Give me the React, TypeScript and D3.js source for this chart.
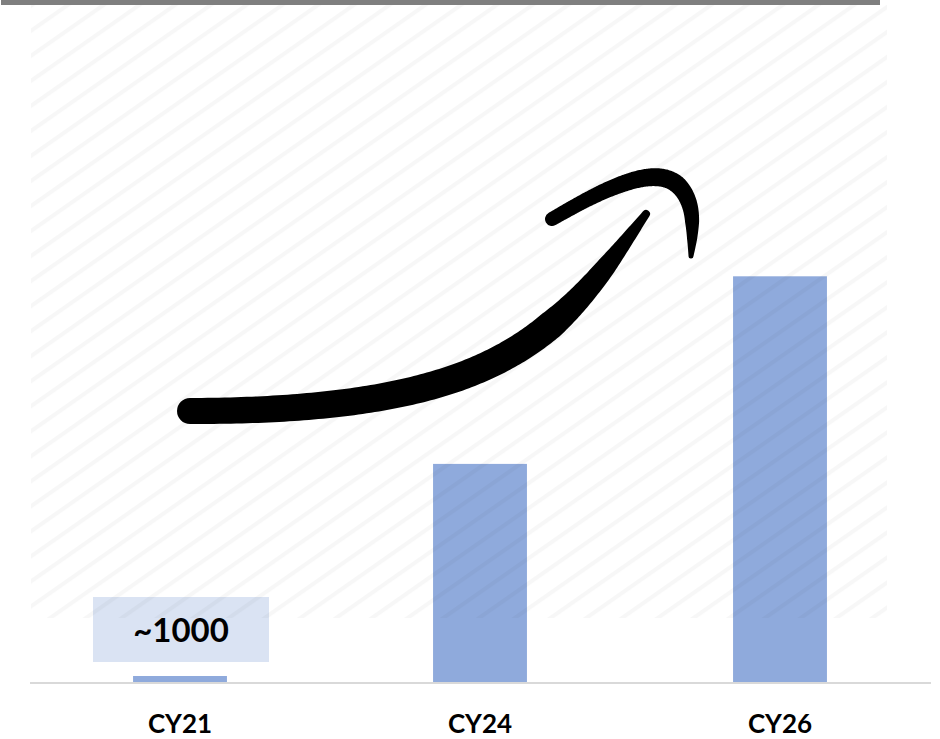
import React from "react";
import * as d3 from "d3";

// ---- data ----
const categories = ["CY21", "CY24", "CY26"];
const values = [1000, 31300, 58100];
const calloutText = "~1000";

// ---- growth swoosh (annotation geometry) ----
// body: cubic Bézier control points + width profile along its length
const swooshBody: [number, number][] = [[190, 411], [511, 411], [559, 330], [646, 214]];
const swooshBodyStops = [0, 0.5, 0.72, 0.87, 1];
const swooshBodyWidths = [26, 28, 28.5, 20, 8];

// head: smooth curve through these points + width profile
const swooshHead: [number, number][] = [
  [552, 219], [590, 198], [625, 183], [655, 177], [677, 184],
  [689, 203], [692, 222], [692, 240], [691, 256],
];
const swooshHeadStops = [0, 0.2, 0.53, 0.64, 0.75, 0.84, 0.92, 1];
const swooshHeadWidths = [14, 15, 18, 18, 16, 14, 10, 5];

const W = 940;
const H = 739;

function sampleBezier(p: [number, number][], n = 160): [number, number][] {
  const out: [number, number][] = [];
  for (let k = 0; k <= n; k++) {
    const t = k / n, u = 1 - t;
    const a = u * u * u, b = 3 * u * u * t, c = 3 * u * t * t, d = t * t * t;
    out.push([
      a * p[0][0] + b * p[1][0] + c * p[2][0] + d * p[3][0],
      a * p[0][1] + b * p[1][1] + c * p[2][1] + d * p[3][1],
    ]);
  }
  return out;
}

// Uniform cubic B-spline whose control points are nudged so the curve
// passes close to the given points.
function sampleSpline(points: [number, number][], perSeg = 30): [number, number][] {
  const n = points.length;
  const ctrl: [number, number][] = points.map((p, i) => {
    if (i === 0 || i === n - 1) return p;
    const a = points[i - 1], b = points[i + 1];
    return [
      p[0] - (a[0] - 2 * p[0] + b[0]) / 6,
      p[1] - (a[1] - 2 * p[1] + b[1]) / 6,
    ];
  });
  const pts = [ctrl[0], ctrl[0], ...ctrl, ctrl[n - 1], ctrl[n - 1]];
  const out: [number, number][] = [];
  for (let i = 0; i < pts.length - 3; i++) {
    const p0 = pts[i], p1 = pts[i + 1], p2 = pts[i + 2], p3 = pts[i + 3];
    for (let k = 0; k < perSeg; k++) {
      const t = k / perSeg, t2 = t * t, t3 = t2 * t;
      const b0 = (1 - t) ** 3 / 6;
      const b1 = (3 * t3 - 6 * t2 + 4) / 6;
      const b2 = (-3 * t3 + 3 * t2 + 3 * t + 1) / 6;
      const b3 = t3 / 6;
      out.push([
        b0 * p0[0] + b1 * p1[0] + b2 * p2[0] + b3 * p3[0],
        b0 * p0[1] + b1 * p1[1] + b2 * p2[1] + b3 * p3[1],
      ]);
    }
  }
  out.push(ctrl[n - 1]);
  return out;
}

// Closed outline of a variable-width stroke with round caps
function taperedPath(c: [number, number][], stops: number[], widths: number[]): string {
  const widthAt = d3.scaleLinear().domain(stops).range(widths).clamp(true);
  const cum = [0];
  for (let i = 1; i < c.length; i++) {
    cum.push(cum[i - 1] + Math.hypot(c[i][0] - c[i - 1][0], c[i][1] - c[i - 1][1]));
  }
  const total = cum[cum.length - 1];
  const left: [number, number][] = [];
  const right: [number, number][] = [];
  const halves: number[] = [];
  for (let i = 0; i < c.length; i++) {
    let a = c[Math.max(0, i - 1)], b = c[Math.min(c.length - 1, i + 1)];
    if (Math.hypot(b[0] - a[0], b[1] - a[1]) < 1e-6) {
      a = c[Math.max(0, i - 2)];
      b = c[Math.min(c.length - 1, i + 2)];
    }
    const tx = b[0] - a[0], ty = b[1] - a[1];
    const len = Math.hypot(tx, ty) || 1;
    const nx = -ty / len, ny = tx / len;
    const h = widthAt(cum[i] / total) / 2;
    halves.push(h);
    left.push([c[i][0] + nx * h, c[i][1] + ny * h]);
    right.push([c[i][0] - nx * h, c[i][1] - ny * h]);
  }
  const hs = halves[0], he = halves[halves.length - 1];
  let d = `M${left[0][0]},${left[0][1]}`;
  for (let i = 1; i < left.length; i++) d += `L${left[i][0]},${left[i][1]}`;
  const re = right[right.length - 1];
  d += `A${he},${he} 0 0 0 ${re[0]},${re[1]}`;
  for (let i = right.length - 2; i >= 0; i--) d += `L${right[i][0]},${right[i][1]}`;
  d += `A${hs},${hs} 0 0 0 ${left[0][0]},${left[0][1]}Z`;
  return d;
}

export default function App() {
  const x = d3.scalePoint<string>().domain(categories).range([30, 930]).padding(0.5);
  const y = d3.scaleLinear().domain([0, 80000]).range([683, 123]);
  const barW = x.step() * 0.313;

  const boxW = 176;
  const boxH = 65;
  const boxCx = (x("CY21") as number) + 1;
  const boxBottom = y(values[0]) - 14;
  const boxTop = boxBottom - boxH;

  const bodyPath = taperedPath(sampleBezier(swooshBody), swooshBodyStops, swooshBodyWidths);
  const headPath = taperedPath(sampleSpline(swooshHead), swooshHeadStops, swooshHeadWidths);

  return (
    <svg
      width={W}
      height={H}
      viewBox={`0 0 ${W} ${H}`}
      style={{ position: "absolute", left: 0, top: 0, background: "#ffffff" }}
      fontFamily="Lato, 'Open Sans', sans-serif"
    >
      <defs>
        <pattern
          id="hatch"
          width={20.5}
          height={20.5}
          patternUnits="userSpaceOnUse"
          patternTransform="rotate(-35)"
        >
          <rect x={0} y={0} width={20.5} height={4} fill="#000" fillOpacity={0.03} />
        </pattern>
      </defs>

      <rect x={0} y={0} width={W} height={H} fill="#ffffff" />
      {/* header strip */}
      <rect x={1} y={0} width={879} height={5} fill="#7f7f7f" />

      {/* bars */}
      {categories.map((c, i) => (
        <rect
          key={c}
          x={(x(c) as number) - barW / 2}
          y={y(values[i])}
          width={barW}
          height={y(0) - y(values[i])}
          fill="#8faadc"
        />
      ))}

      {/* value callout */}
      <rect x={boxCx - boxW / 2} y={boxTop} width={boxW} height={boxH} fill="#dae3f3" />
      <text
        x={boxCx}
        y={boxTop + 45}
        textAnchor="middle"
        fontSize={33}
        fontWeight={700}
        fill="#000"
      >
        {calloutText}
      </text>

      {/* diagonal hatch backdrop */}
      <rect x={31} y={5} width={856} height={613} fill="url(#hatch)" />

      {/* baseline */}
      <line x1={30} x2={931} y1={y(0)} y2={y(0)} stroke="#d9d9d9" strokeWidth={2} />

      {/* growth swoosh */}
      <path d={bodyPath} fill="#000" />
      <path d={headPath} fill="#000" />

      {/* category labels */}
      {categories.map((c) => (
        <text
          key={c}
          x={x(c) as number}
          y={733}
          textAnchor="middle"
          fontSize={26}
          fontWeight={700}
          fill="#000"
        >
          {c}
        </text>
      ))}
    </svg>
  );
}
